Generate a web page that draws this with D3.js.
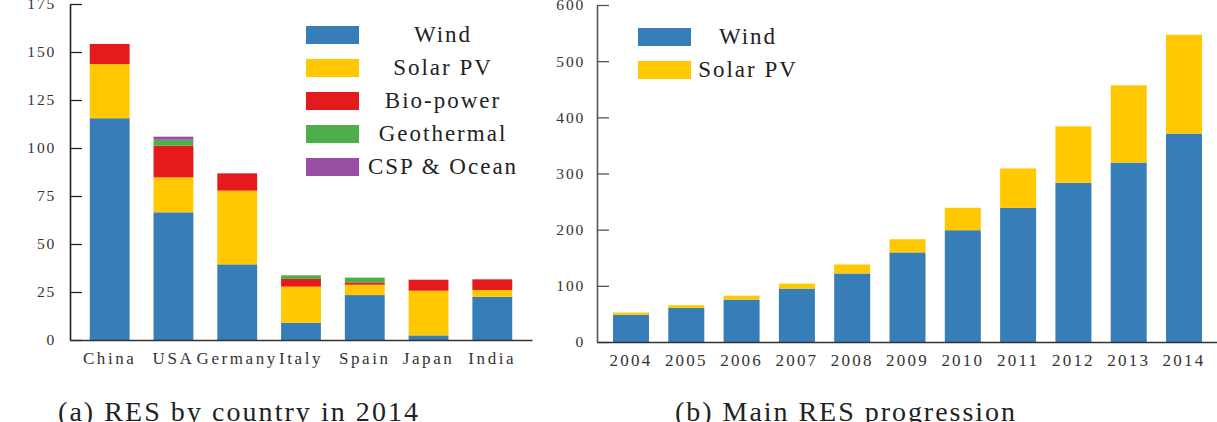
<!DOCTYPE html>
<html>
<head>
<meta charset="utf-8">
<script src="https://cdn.jsdelivr.net/npm/d3@7"></script>
<style>
  body { margin: 0; background: #fff; }
  svg { display: block; font-family: "Liberation Serif", "DejaVu Serif", serif; }
</style>
</head>
<body>
<div id="graph"></div>
<script>
// (a) RES by country in 2014
const countries = ["China", "USA", "Germany", "Italy", "Spain", "Japan", "India"];
const sources = ["Wind", "Solar PV", "Bio-power", "Geothermal", "CSP & Ocean"];
const windByCountry = [115.5, 66.5, 39.4, 9.0, 23.4, 2.4, 22.5];
const solarByCountry = [28.2, 18.2, 38.4, 18.8, 5.4, 23.3, 3.5];
const bioByCountry = [10.5, 16.5, 9.0, 4.0, 1.2, 5.7, 5.6];
const geoByCountry = [0, 3.1, 0, 1.9, 2.5, 0, 0];
const cspByCountry = [0, 1.6, 0, 0, 0, 0, 0];
const countryTicks = [0, 25, 50, 75, 100, 125, 150, 175];

// (b) Main RES progression
const years = ["2004", "2005", "2006", "2007", "2008", "2009", "2010", "2011", "2012", "2013", "2014"];
const windByYear = [48.5, 60.5, 75.5, 95, 122, 159.5, 199, 239, 283.5, 319.5, 371];
const solarByYear = [4, 5, 7, 9, 16, 23.5, 40, 70, 100.5, 137.5, 176];
const yearTicks = [0, 100, 200, 300, 400, 500, 600];

const colors = ["#377eb8", "#ffc800", "#e41a1c", "#4daf4a", "#984ea3"];

const svg = d3.select("#graph")
    .append("svg")
    .attr("width", 1217)
    .attr("height", 422);

function drawChart(opts) {
    const x = d3.scaleBand()
        .domain(opts.cats)
        .range(opts.xRange)
        .paddingInner(opts.pi)
        .paddingOuter(opts.po);
    const y = d3.scaleLinear()
        .domain([0, d3.max(opts.ticks)])
        .range(opts.yRange);

    const rows = opts.cats.map(function(c, i) {
        const r = {cat: c};
        opts.keys.forEach(function(k, j) { r[k] = opts.series[j][i]; });
        return r;
    });
    const stacked = d3.stack().keys(opts.keys)(rows);

    const g = svg.append("g");

    g.selectAll("g.layer")
        .data(stacked)
        .enter().append("g")
        .attr("class", "layer")
        .attr("fill", function(d, i) { return colors[i]; })
        .selectAll("rect")
        .data(function(d) { return d; })
        .enter().append("rect")
        .attr("x", function(d) { return x(d.data.cat); })
        .attr("width", x.bandwidth())
        .attr("y", function(d) { return y(d[1]); })
        .attr("height", function(d) { return y(d[0]) - y(d[1]); });

    // y axis, ticks pointing inward
    const ya = g.append("g")
        .attr("transform", "translate(" + opts.xRange[0] + ",0)")
        .call(d3.axisLeft(y).tickValues(opts.ticks).tickSizeInner(-12).tickSizeOuter(0).tickPadding(opts.tickPad));
    ya.attr("font-family", null);
    ya.select(".domain").attr("stroke", opts.axisColor).attr("stroke-width", 1.6);
    ya.selectAll(".tick line").attr("stroke", opts.axisColor).attr("stroke-width", 1.3);
    ya.selectAll("text")
        .attr("font-size", 15.5)
        .attr("fill", "#333")
        .style("letter-spacing", opts.yLs + "px");

    // x axis, labels only
    const xa = g.append("g")
        .attr("transform", "translate(0," + opts.yRange[0] + ")")
        .call(d3.axisBottom(x).tickSize(0).tickPadding(12));
    xa.attr("font-family", null);
    xa.select(".domain").attr("stroke", "#333").attr("stroke-width", 1.6);
    xa.selectAll("text")
        .attr("font-size", 17)
        .attr("fill", "#333")
        .style("letter-spacing", opts.xLs + "px");

    // legend
    const lg = g.append("g");
    opts.keys.forEach(function(k, i) {
        lg.append("rect")
            .attr("x", opts.legend.x)
            .attr("y", opts.legend.y + i * 33)
            .attr("width", 53)
            .attr("height", 18)
            .attr("fill", colors[i]);
        lg.append("text")
            .attr("x", opts.legend.tx)
            .attr("y", opts.legend.y + 16 + i * 33)
            .attr("text-anchor", "middle")
            .attr("font-size", 23)
            .attr("fill", "#222")
            .style("letter-spacing", "2px")
            .text(k);
    });

    svg.append("text")
        .attr("x", opts.caption.x)
        .attr("y", 421)
        .attr("font-size", 28)
        .attr("fill", "#222")
        .attr("textLength", opts.caption.w)
        .attr("lengthAdjust", "spacing")
        .text(opts.caption.text);
}

drawChart({
    cats: countries,
    keys: sources,
    series: [windByCountry, solarByCountry, bioByCountry, geoByCountry, cspByCountry],
    ticks: countryTicks,
    xRange: [70, 532], yRange: [340, 4],
    pi: 0.375, po: 0.31,
    tickPad: 14, axisColor: "#222", yLs: 1.8, xLs: 2.6,
    legend: {x: 306, y: 26, tx: 443},
    caption: {x: 58, w: 360, text: "(a) RES by country in 2014"}
});

drawChart({
    cats: years,
    keys: ["Wind", "Solar PV"],
    series: [windByYear, solarByYear],
    ticks: yearTicks,
    xRange: [597, 1218], yRange: [342, 5],
    pi: 0.349, po: 0.289,
    tickPad: 12, axisColor: "#555", yLs: 1.8, xLs: 2.2,
    legend: {x: 638, y: 28, tx: 748},
    caption: {x: 675, w: 340, text: "(b) Main RES progression"}
});
</script>
</body>
</html>
